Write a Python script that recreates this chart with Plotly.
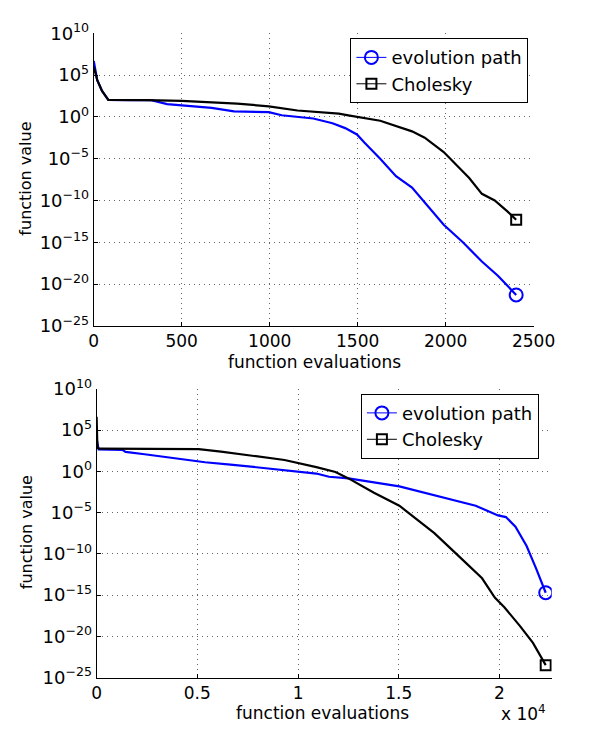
import plotly.graph_objects as go

# ---------------- data: x = function evaluations, y = log10(function value) ----------------
top_ep_x = [0, 20, 47, 83, 200, 327, 417, 508, 670, 797, 995, 1068, 1248, 1357, 1429, 1496,
            1538, 1628, 1718, 1809, 1881, 1989, 2098, 2206, 2297, 2401]
top_ep_y = [6.7, 4.4, 3.1, 2.05, 2.0, 2.0, 1.54, 1.35, 1.08, 0.66, 0.58, 0.2, -0.19, -0.76, -1.34, -2.1,
            -3.07, -5.0, -7.1, -8.45, -10.2, -12.9, -15.0, -17.3, -19.0, -21.3]

top_ch_x = [0, 20, 47, 83, 300, 500, 815, 995, 1158, 1393, 1447, 1628, 1809, 1881, 1989, 2044,
            2134, 2206, 2279, 2351, 2401]
top_ch_y = [6.0, 4.4, 3.1, 2.05, 2.0, 1.92, 1.6, 1.27, 0.77, 0.39, 0.19, -0.46, -1.73, -2.49, -4.2, -5.37,
            -7.3, -9.2, -10.0, -11.3, -12.3]

bot_ep_x = [0, 100, 1280, 1437, 2383, 3490, 4594, 5384, 6645, 8066, 9330, 10908, 11540, 12505,
            15030, 15663, 17241, 18818, 19928, 20321, 20794, 21347, 21821, 22295]
bot_ep_y = [4.0, 2.66, 2.6, 2.35, 2.07, 1.68, 1.37, 1.1, 0.82, 0.43, 0.12, -0.27, -0.66, -0.86,
            -1.83, -2.23, -3.2, -4.17, -5.35, -5.55, -6.72, -9.06, -11.8, -14.72]

bot_ch_x = [0, 40, 150, 2000, 5068, 6173, 7752, 9330, 10908, 11857, 12505, 13769, 15030, 15663,
            16767, 18030, 19136, 19767, 20241, 21031, 21662, 22295]
bot_ch_y = [6.6, 2.86, 2.74, 2.72, 2.7, 2.39, 1.88, 1.37, 0.51, -0.08, -0.86, -2.6, -4.17, -5.35,
            -7.5, -10.4, -12.97, -15.3, -16.48, -18.8, -20.8, -23.5]

y_tick_exp = [10, 5, 0, -5, -10, -15, -20, -25]
top_x_ticks = [0, 500, 1000, 1500, 2000, 2500]
bot_x_ticks = [0, 5000, 10000, 15000, 20000]
bot_x_ticklabels = ["0", "0.5", "1", "1.5", "2"]

series_names = ["evolution path", "Cholesky"]
BLUE = "#0000ff"
BLACK = "#000000"


def pw(v):
    return [10 ** e for e in v]


def sup(e):
    s = str(e).replace("-", "\u2212")
    return f"10<sup>{s}</sup>"


fig = go.Figure()

panels = [
    ("x", "y", top_ep_x, top_ep_y, top_ch_x, top_ch_y, "legend"),
    ("x2", "y2", bot_ep_x, bot_ep_y, bot_ch_x, bot_ch_y, "legend2"),
]

for xa, ya, ex, ey, cx, cy, lg in panels:
    # curves
    fig.add_trace(go.Scatter(x=ex, y=pw(ey), xaxis=xa, yaxis=ya, mode="lines",
                             line=dict(color=BLUE, width=2.2), showlegend=False))
    fig.add_trace(go.Scatter(x=cx, y=pw(cy), xaxis=xa, yaxis=ya, mode="lines",
                             line=dict(color=BLACK, width=2.2), showlegend=False))
    # end markers (also the legend entries)
    fig.add_trace(go.Scatter(x=[ex[-1]], y=pw([ey[-1]]), xaxis=xa, yaxis=ya, mode="lines+markers",
                             name=series_names[0], legend=lg,
                             line=dict(color=BLUE, width=1),
                             marker=dict(symbol="circle-open", size=13, color=BLUE,
                                         line=dict(width=2, color=BLUE))))
    fig.add_trace(go.Scatter(x=[cx[-1]], y=pw([cy[-1]]), xaxis=xa, yaxis=ya, mode="lines+markers",
                             name=series_names[1], legend=lg,
                             line=dict(color=BLACK, width=1),
                             marker=dict(symbol="square-open", size=10, color=BLACK,
                                         line=dict(width=2, color=BLACK))))

W, H = 589, 734
FONT = "DejaVu Sans, sans-serif"
FS = 17
FS_LEG = 18

common_x = dict(showline=True, linecolor="black", linewidth=1, mirror=False,
                showgrid=True, gridcolor="#666666", griddash="1px,4px", gridwidth=1,
                ticks="inside", ticklen=4, tickcolor="black", zeroline=False,
                tickfont=dict(size=FS, color="black", family=FONT))
common_y = dict(type="log", showline=True, linecolor="black", linewidth=1, mirror=False,
                showgrid=True, gridcolor="#666666", griddash="1px,4px", gridwidth=1,
                ticks="inside", ticklen=4, tickcolor="black", zeroline=False,
                range=[-25, 10],
                tickvals=[10 ** e for e in y_tick_exp],
                ticktext=[sup(e) for e in y_tick_exp],
                tickfont=dict(size=FS_LEG, color="black", family=FONT))

legend_common = dict(xanchor="left", yanchor="top", bgcolor="white",
                     bordercolor="black", borderwidth=1,
                     font=dict(size=FS_LEG, family=FONT, color="black"),
                     tracegroupgap=0)

fig.update_layout(
    width=W, height=H,
    margin=dict(l=0, r=0, t=0, b=0),
    paper_bgcolor="white", plot_bgcolor="white",
    font=dict(family=FONT, color="black"),
    xaxis=dict(**common_x, domain=[93 / W, 554 / W], anchor="y", range=[0, 2500],
               tickvals=top_x_ticks, ticktext=[str(t) for t in top_x_ticks]),
    yaxis=dict(**common_y, domain=[1 - 323 / H, 1 - 21 / H], anchor="x"),
    xaxis2=dict(**common_x, domain=[96 / W, 573 / W], anchor="y2", range=[0, 22594],
                tickvals=bot_x_ticks, ticktext=bot_x_ticklabels),
    yaxis2=dict(**common_y, domain=[1 - 686 / H, 1 - 388 / H], anchor="x2"),
    legend=dict(x=362 / W, y=1 - 26 / H, **legend_common),
    legend2=dict(x=373 / W, y=1 - 393 / H, **legend_common),
    showlegend=True,
)

annots = [
    dict(text="function evaluations", x=324 / W, y=1 - 360 / H, font=dict(size=FS)),
    dict(text="function evaluations", x=333 / W, y=1 - 723 / H, font=dict(size=FS)),
    dict(text="function value", x=22 / W, y=1 - 171 / H, textangle=-90, font=dict(size=16)),
    dict(text="function value", x=22 / W, y=1 - 536 / H, textangle=-90, font=dict(size=16)),
    dict(text="x 10<sup>4</sup>", x=543 / W, y=1 - 723 / H, font=dict(size=FS)),
]
for a in annots:
    f = a.pop("font")
    fig.add_annotation(xref="paper", yref="paper", showarrow=False,
                       xanchor="center", yanchor="middle",
                       font=dict(size=f["size"], family=FONT, color="black"), **a)

fig.write_html("out.html")
